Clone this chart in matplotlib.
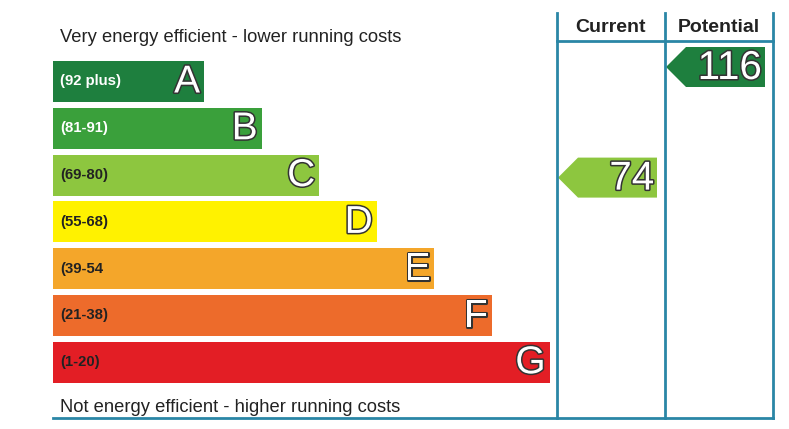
import matplotlib
matplotlib.use("Agg")
import matplotlib.pyplot as plt
from matplotlib.patches import Rectangle, Polygon
import matplotlib.patheffects as pe

plt.rcParams["font.family"] = ["Liberation Sans", "DejaVu Sans"]

# bands, top (best) to bottom (worst)
bands = ["A", "B", "C", "D", "E", "F", "G"]
ranges = ["(92 plus)", "(81-91)", "(69-80)", "(55-68)", "(39-54", "(21-38)", "(1-20)"]
band_colors = ["#1e7f3e", "#3aa03b", "#8dc63f", "#fff200", "#f4a62a", "#ed6b2b", "#e31e25"]
range_text_colors = ["white", "white", "#222222", "#222222", "#222222", "#222222", "#222222"]

current_score = 74
potential_score = 116

top_label = "Very energy efficient - lower running costs"
bottom_label = "Not energy efficient - higher running costs"
headers = ["Current", "Potential"]

line_col = "#2a86a6"


def band_of(score):
    lower = [92, 81, 69, 55, 39, 21, 1]
    for i, lo in enumerate(lower):
        if score >= lo:
            return i
    return len(lower) - 1


fig = plt.figure(figsize=(7.89, 4.29), dpi=100)
ax = fig.add_axes([0, 0, 1, 1])
ax.set_xlim(0, 789)
ax.set_ylim(429, 0)
ax.axis("off")

x0 = 53
bar_h = 41
pitch = 46.8
top0 = 61
step_w = 57.6
base_w = 151

outline = [pe.withStroke(linewidth=2.2, foreground="#333333")]

for i, (b, r) in enumerate(zip(bands, ranges)):
    y = top0 + i * pitch
    w = base_w + i * step_w
    ax.add_patch(Rectangle((x0, y), w, bar_h, color=band_colors[i], lw=0))
    ax.text(x0 + 7, y + bar_h / 2, r, fontsize=10.7, fontweight="bold",
            color=range_text_colors[i], va="center", ha="left")
    t = ax.text(x0 + w - 4, y + bar_h / 2 + 1, b, fontsize=28, color="white",
                va="center", ha="right")
    t.set_path_effects(outline)

# column lines
cols = [557, 665, 773]
for cx in cols:
    ax.plot([cx, cx], [13, 418], color=line_col, lw=2)
ax.plot([cols[0], cols[2]], [41, 41], color=line_col, lw=2)
ax.plot([x0, cols[2]], [418, 418], color=line_col, lw=2)

for j, h in enumerate(headers):
    ax.text((cols[j] + cols[j + 1]) / 2, 27, h, fontsize=14, fontweight="bold",
            ha="center", va="center", color="#222222")

ax.text(60, 37, top_label, fontsize=13.2, ha="left", va="center", color="#222222")
ax.text(60, 407, bottom_label, fontsize=13.2, ha="left", va="center", color="#222222")


def draw_arrow(score, col, y_top):
    i = band_of(score)
    left = cols[col] + 1
    right = cols[col + 1] - 8
    h = 40
    tip = 20
    pts = [(left, y_top + h / 2), (left + tip, y_top), (right, y_top),
           (right, y_top + h), (left + tip, y_top + h)]
    ax.add_patch(Polygon(pts, closed=True, color=band_colors[i], lw=0))
    t = ax.text(right - 3, y_top + h / 2 + 1, str(score), fontsize=29, color="white",
                ha="right", va="center")
    t.set_path_effects(outline)


draw_arrow(current_score, 0, top0 + band_of(current_score) * pitch + 3)
draw_arrow(potential_score, 1, 47)

fig.savefig("out.png", dpi=100)
